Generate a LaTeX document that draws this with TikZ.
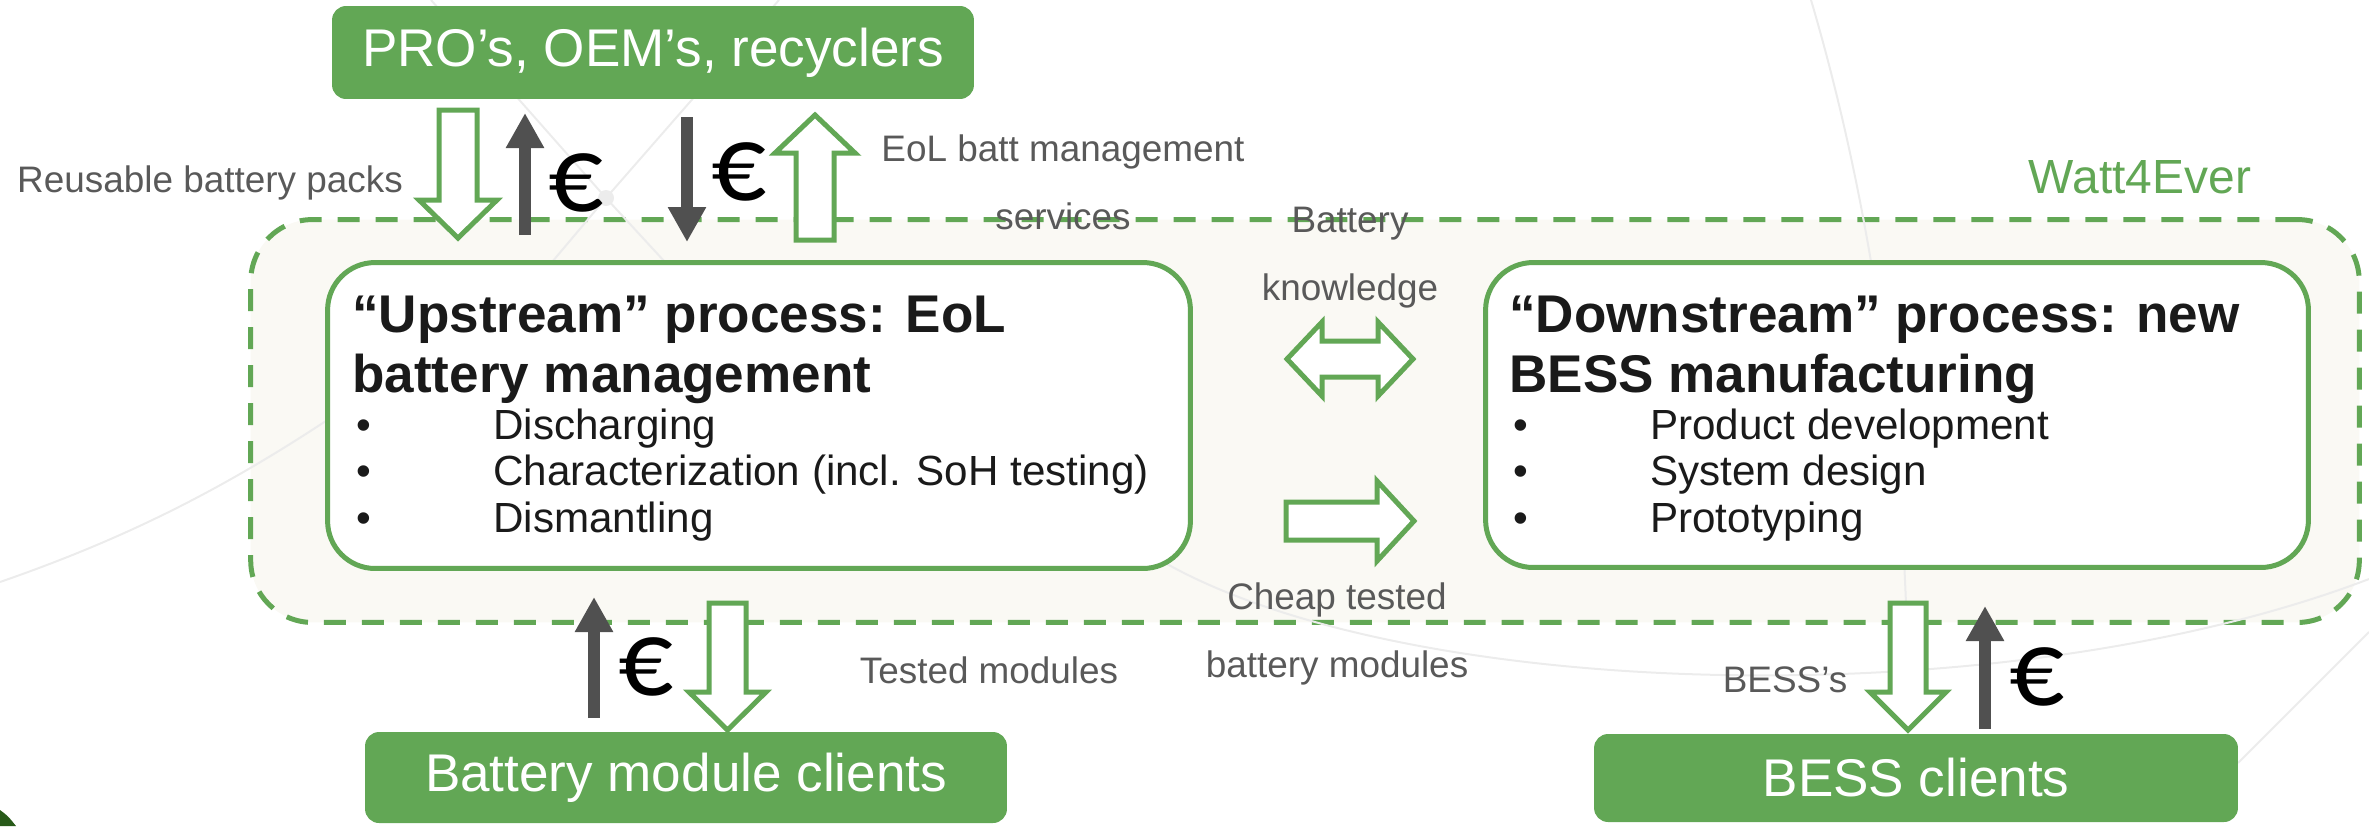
\documentclass[tikz,border=0pt]{standalone}
\usepackage{fontspec}
\setmainfont{Liberation Sans}
\newfontfamily\eurofont{Carlito}
\usetikzlibrary{arrows.meta,positioning}

\definecolor{wgreen}{RGB}{98,167,85}
\definecolor{wcream}{RGB}{250,249,244}
\definecolor{wdark}{RGB}{80,80,80}
\definecolor{wgrey}{RGB}{89,89,89}
\definecolor{wtext}{RGB}{26,26,26}
\definecolor{wfaint}{RGB}{236,236,236}
\definecolor{wdeep}{RGB}{40,90,25}

\newcommand{\itembul}{\makebox[2.74cm][l]{•}}
% vertical block arrow: x, y tail, y head base, y tip, half shaft, half head
\newcommand{\vblock}[6]{\draw[hollow] (#1-#5,#2) -- (#1+#5,#2) -- (#1+#5,#3) -- (#1+#6,#3) -- (#1,#4) -- (#1-#6,#3) -- (#1-#5,#3) -- cycle;}
% horizontal block arrow: y, x tail, x head base, x tip, half shaft, half head
\newcommand{\hblock}[6]{\draw[hollow] (#2,#1-#5) -- (#3,#1-#5) -- (#3,#1-#6) -- (#4,#1) -- (#3,#1+#6) -- (#3,#1+#5) -- (#2,#1+#5) -- cycle;}

\begin{document}
\begin{tikzpicture}[x=0.02cm,y=-0.02cm]
  \tikzstyle{client}=[fill=wgreen, text=white, rounded corners=0.28cm, inner sep=0pt, font=\fontsize{30.2pt}{36pt}\selectfont]
  \tikzstyle{process}=[draw=wgreen, fill=white, line width=0.1cm, rounded corners=0.95cm, inner sep=0pt]
  \tikzstyle{ptitle}=[anchor=base west, align=left, inner sep=0pt, text=wtext, font=\fontsize{30.2pt}{33.6pt}\selectfont\bfseries]
  \tikzstyle{pitems}=[anchor=base west, align=left, inner sep=0pt, text=wtext, font=\fontsize{24pt}{26.2pt}\selectfont]
  \tikzstyle{lbl}=[anchor=base, align=center, inner sep=0pt, text=wgrey, font=\fontsize{21pt}{38.7pt}\selectfont]
  \tikzstyle{euro}=[inner sep=0pt, font=\eurofont\fontsize{62pt}{62pt}\selectfont]
  \tikzstyle{hollow}=[draw=wgreen, fill=white, line width=0.1cm, line join=miter]
  \tikzstyle{money}=[draw=wdark, line width=0.23cm, -{Triangle[length=0.7cm,width=0.72cm]}]
  \tikzstyle{faint}=[draw=wfaint, line width=0.04cm]

  \useasboundingbox (0,0) rectangle (2369,826);

  % the Watt4Ever frame
  \node[draw=wgreen, fill=wcream, line width=0.1cm, dash pattern=on 0.44cm off 0.32cm,
        rounded corners=1.24cm, minimum width=42.18cm, minimum height=8.06cm] (w4e) at (1305,421) {};
  \node[anchor=base, inner sep=0pt, text=wgreen, font=\fontsize{27.3pt}{30pt}\selectfont] (w4elbl) at (2140,193) {Watt4Ever};

  % faint background lines
  \draw[faint] (431,0) -- (606,198) -- (700,300);
  \draw[faint] (779,0) -- (606,198) -- (520,300);
  \fill[wfaint] (606,198) circle (0.16cm);
  \draw[faint] (0,582) .. controls (150,530) and (260,470) .. (400,370);
  \draw[faint] (1811,0) .. controls (1870,200) and (1910,450) .. (1908,733);
  \draw[faint] (1160,560) .. controls (1400,700) and (2000,720) .. (2369,579);
  \draw[faint] (2238,763) -- (2369,632);
  \fill[wdeep] (0,810) .. controls (8,816) .. (16,826) -- (0,826) -- cycle;

  % processes
  \node[process, minimum width=17.26cm, minimum height=6.12cm] (up) at (759,415.5) {};
  \node[process, minimum width=16.46cm, minimum height=6.1cm] (down) at (1897,415) {};
  \node[ptitle] (uptitle) at (352,392) {“Upstream” process: EoL\\battery management};
  \node[pitems] (upitems) at (356,532) {\itembul Discharging\\\itembul Characterization (incl. SoH testing)\\\itembul Dismantling};
  \node[ptitle] (downtitle) at (1509,392) {“Downstream” process: new\\BESS manufacturing};
  \node[pitems] (downitems) at (1513,532) {\itembul Product development\\\itembul System design\\\itembul Prototyping};

  % clients
  \node[client, minimum width=12.84cm, minimum height=1.86cm] (pro) at (653,52.5) {PRO’s, OEM’s, recyclers};
  \node[client, minimum width=12.84cm, minimum height=1.82cm] (modcl) at (686,777.5) {Battery module clients};
  \node[client, minimum width=12.88cm, minimum height=1.76cm] (besscl) at (1916,778) {BESS clients};

  % labels
  \node[lbl] (reuse) at (210,192) {Reusable battery packs};
  \node[lbl] (eolsvc) at (1063,229) {EoL batt management\\services};
  \node[lbl] (know) at (1350,300) {Battery\\knowledge};
  \node[lbl] (cheap) at (1337,677) {Cheap tested\\battery modules};
  \node[lbl] (tested) at (989,683) {Tested modules};
  \node[lbl] (bessl) at (1785,692) {BESS’s};

  % goods flows
  \vblock{458}{110}{200}{238}{19}{39}
  \vblock{815}{240}{153}{115}{19}{40}
  \vblock{727.5}{603}{692}{730}{18.5}{38.5}
  \vblock{1908}{603}{692}{730}{18}{38}
  \hblock{521}{1286}{1377}{1414}{19}{40}
  \draw[hollow] (1287,359) -- (1322,322) -- (1322,341) -- (1378,341) -- (1378,322) -- (1413,359)
    -- (1378,396) -- (1378,377) -- (1322,377) -- (1322,396) -- cycle;

  % money flows
  \coordinate (m1a) at (525,235);  \coordinate (m1b) at (525,113);
  \coordinate (m2a) at (687,117);  \coordinate (m2b) at (687,242);
  \coordinate (m3a) at (594,718);  \coordinate (m3b) at (594,597);
  \coordinate (m4a) at (1985,729); \coordinate (m4b) at (1985,606);
  \draw[money] (m1a) -- (m1b);
  \draw[money] (m2a) -- (m2b);
  \draw[money] (m3a) -- (m3b);
  \draw[money] (m4a) -- (m4b);
  \node[euro] (eur1) at (576,183) {€};
  \node[euro] (eur2) at (739,172) {€};
  \node[euro] (eur3) at (646,667) {€};
  \node[euro] (eur4) at (2037,677) {€};
\end{tikzpicture}
\end{document}
